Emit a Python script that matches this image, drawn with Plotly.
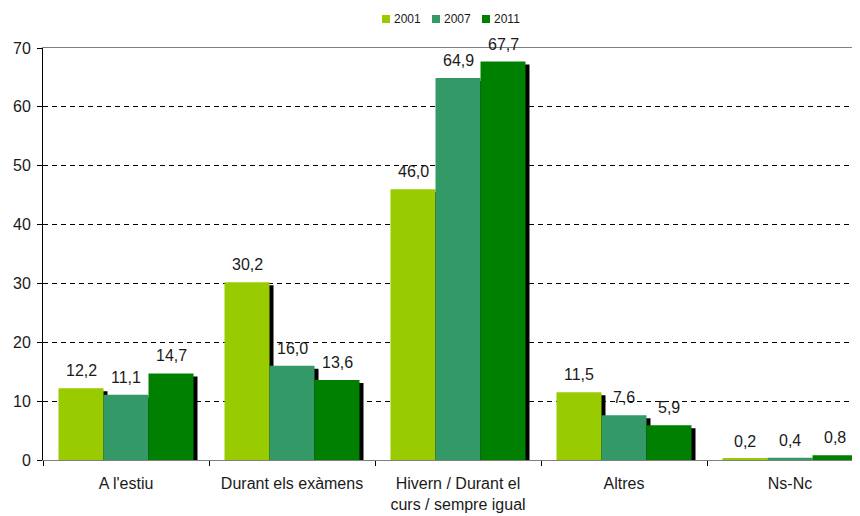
import plotly.graph_objects as go

categories = ["A l'estiu", "Durant els exàmens", "Hivern / Durant el<br>curs / sempre igual", "Altres", "Ns-Nc"]
series_names = ["2001", "2007", "2011"]
values_2001 = [12.2, 30.2, 46.0, 11.5, 0.2]
values_2007 = [11.1, 16.0, 64.9, 7.6, 0.4]
values_2011 = [14.7, 13.6, 67.7, 5.9, 0.8]
colors = ["#99CC00", "#339966", "#008000"]
y_ticks = [0, 10, 20, 30, 40, 50, 60, 70]

series = [values_2001, values_2007, values_2011]
FONT = "Liberation Sans, Arial"
TXT = "#1a1a1a"

# figure geometry (the page body adds an 8px offset)
W, H = 860, 516
ML, MT, MB, MR = 35, 40, 64, 8
plot_w = W - ML - MR
plot_h = H - MT - MB

px_per_cat = 166.0
px_per_unit = plot_h / 70.0
bar_w = 45.0 / px_per_cat
shadow_dx = 4.0 / px_per_cat
shadow_dy = 3.0 / px_per_unit

x_idx = list(range(len(categories)))
fig = go.Figure()

# shadows first
for i, vals in enumerate(series):
    off = (i - 1.5) * bar_w
    fig.add_trace(go.Bar(
        x=x_idx, y=list(vals), base=[-shadow_dy] * len(vals),
        width=bar_w, offset=off + shadow_dx,
        marker=dict(color="black", line=dict(width=0)),
        showlegend=False, hoverinfo="skip",
    ))

for i, vals in enumerate(series):
    off = (i - 1.5) * bar_w
    fig.add_trace(go.Bar(
        x=x_idx, y=vals, width=bar_w, offset=off, name=series_names[i],
        marker=dict(color=colors[i], line=dict(width=0)), showlegend=False,
    ))
    for xi, v in zip(x_idx, vals):
        fig.add_annotation(
            x=xi + off + bar_w / 2, y=v, text=f"{v:.1f}".replace(".", ","),
            showarrow=False, yanchor="bottom", yshift=7,
            font=dict(family=FONT, size=16, color=TXT),
        )

# manual legend (small squares + labels), positions in figure pixels
leg_x = [374, 424, 474]
leg_y = 11
for i, name in enumerate(series_names):
    x0 = (leg_x[i] - ML) / plot_w
    x1 = (leg_x[i] + 8 - ML) / plot_w
    y0 = (H - MB - (leg_y + 4)) / plot_h
    y1 = (H - MB - (leg_y - 4)) / plot_h
    fig.add_shape(type="rect", xref="paper", yref="paper", x0=x0, x1=x1, y0=y0, y1=y1,
                  fillcolor=colors[i], line=dict(width=0))
    fig.add_annotation(xref="paper", yref="paper", x=(leg_x[i] + 10 - ML) / plot_w,
                       y=(H - MB - leg_y) / plot_h, text=name, showarrow=False,
                       xanchor="left", yanchor="middle",
                       font=dict(family=FONT, size=12, color=TXT))

fig.update_layout(
    barmode="overlay",
    width=W, height=H,
    margin=dict(l=ML, r=MR, t=MT, b=MB),
    plot_bgcolor="white", paper_bgcolor="white",
    font=dict(family=FONT, size=16, color=TXT),
    showlegend=False,
)

fig.update_xaxes(
    range=[-0.5, -0.5 + plot_w / px_per_cat],
    tickvals=x_idx, ticktext=categories, ticks="", automargin=False,
    showline=True, linecolor="#808080", linewidth=1, mirror=True,
    showgrid=False, zeroline=False, ticklabelstandoff=9,
    minor=dict(tickvals=[k - 0.5 for k in range(len(categories) + 1)],
               ticks="outside", ticklen=5, tickcolor="black", showgrid=False),
    tickfont=dict(size=16),
)
fig.update_yaxes(
    range=[0, 70], tickvals=y_ticks, ticks="outside", ticklen=5, tickcolor="black",
    showline=True, linecolor="black", linewidth=1, automargin=False,
    showgrid=True, gridcolor="black", griddash="5px,4px", gridwidth=1,
    zeroline=False, tickfont=dict(size=16), ticklabelstandoff=3,
)

fig.write_html("out.html")
